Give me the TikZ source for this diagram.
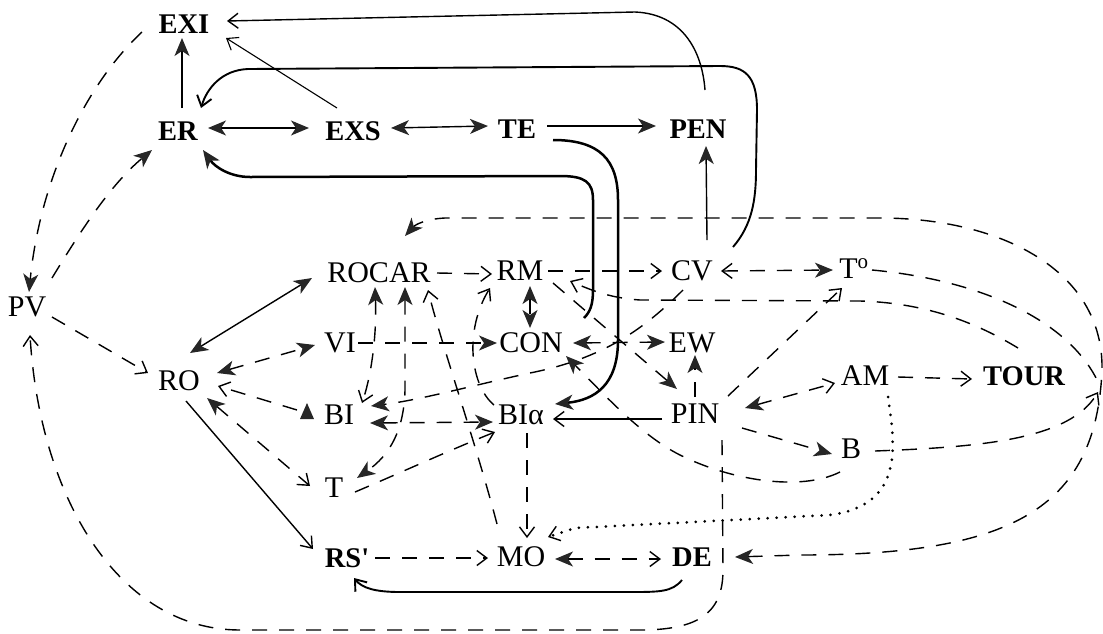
\documentclass[tikz,border=0pt]{standalone}
\usepackage{fontspec}
\setmainfont{Liberation Serif}
\usetikzlibrary{calc,arrows.meta}
\tikzset{
  Fl/.tip={Stealth[length=18pt,width=15pt,inset=5pt,color=black!85]},
  Op/.tip={Straight Barb[length=10pt,width=15pt]},
  lbl/.style={inner sep=0pt,outer sep=0pt,text height=20pt,text depth=0pt,font=\fontsize{30}{30}\selectfont},
  lblb/.style={lbl,font=\fontsize{28.5}{30}\selectfont\bfseries},
  sl/.style={line width=1.4pt},
  mid/.style={line width=1.9pt},
  thk/.style={line width=2.5pt},
  dsh/.style={line width=1.4pt,dash pattern=on 15pt off 12pt},
  dot/.style={line width=3pt,line cap=round,dash pattern=on 0pt off 9pt},
}
\begin{document}
\begin{tikzpicture}[x=1pt,y=-1pt]
\useasboundingbox (0,0) rectangle (1103,633);
% nodes
\node[lblb] (EXI) at (184,23) {EXI};
\node[lblb] (ER) at (178,130) {ER};
\node[lblb] (EXS) at (353,130) {EXS};
\node[lblb] (TE) at (517,128) {TE};
\node[lblb] (PEN) at (698,128) {PEN};
\node[lbl] (PV) at (27,306) {PV};
\node[lbl] (ROCAR) at (379,272) {ROCAR};
\node[lbl] (RM) at (520,270) {RM};
\node[lbl] (CV) at (692,270) {CV};
\node[lbl] (To) at (854,268) {T\textsuperscript{o}};
\node[lbl] (VI) at (340,342) {VI};
\node[lbl] (CON) at (531,342) {CON};
\node[lbl] (EW) at (692,342) {EW};
\node[lbl] (RO) at (179,380) {RO};
\node[lbl] (BI) at (339,414) {BI};
\node[lbl] (BIa) at (521,414) {BIα};
\node[lbl] (PIN) at (695,413) {PIN};
\node[lbl] (AM) at (865,375) {AM};
\node[lblb] (TOUR) at (1024,375) {TOUR};
\node[lbl] (B) at (851,448) {B};
\node[lbl] (T) at (334,487) {T};
\node[lblb] (RS) at (347,557) {RS\textquotesingle};
\node[lbl] (MO) at (521,556) {MO};
\node[lblb] (DE) at (692,556) {DE};
\coordinate (mergeA) at (1099,384);
\coordinate (mergeB) at (1098,392);
% solid connectors
\draw[sl,-{Fl}] ($(ER)+(4,-22)$) -- ($(EXI)+(-2,15)$);
\draw[line width=1.1pt,-{Op}] ($(EXS)+(-16,-22)$) -- ($(EXI)+(42,15)$);
\draw[sl,-{Op}] ($(PEN)+(7,-38)$) .. controls (702,50) and (682,14) .. (635,12) -- ($(EXI)+(43,-2)$);
\draw[mid,-{Op}] ($(CV)+(41,-23)$) .. controls (752,225) and (756,200) .. (756,170) -- (757,110) .. controls (757,76) and (745,66) .. (720,66) -- (248,69) .. controls (222,70) and (207,88) .. ($(ER)+(23,-22)$);
\draw[sl,{Fl}-{Fl}] ($(ER)+(30,-2)$) -- ($(EXS)+(-44,-2)$);
\draw[sl,{Fl}-{Fl}] ($(EXS)+(38,-2)$) -- ($(TE)+(-29,-2)$);
\draw[sl,-{Fl}] ($(TE)+(30,-2)$) -- ($(PEN)+(-42,-2)$);
\draw[sl,-{Fl}] ($(CV)+(15,-30)$) -- ($(PEN)+(8,18)$);
\draw[thk,-{Fl}] ($(CON)+(53,-24)$) .. controls (590,312) and (593,305) .. (593,290) -- (593,200) .. controls (593,182) and (585,176) .. (560,176) -- (250,177) .. controls (230,177) and (215,167) .. ($(ER)+(25,20)$);
\draw[thk,-{Fl}] ($(TE)+(36,12)$) .. controls (600,140) and (618,160) .. (618,200) -- (618,340) .. controls (618,385) and (595,400) .. ($(BIa)+(34,-10)$);
\draw[sl,-{Op}] ($(PIN)+(-33,6)$) -- ($(BIa)+(32,5)$);
\draw[sl,-{Op}] ($(RO)+(7,21)$) -- ($(RS)+(-34,-8)$);
\draw[sl,{Fl}-{Fl}] ($(RO)+(11,-27)$) -- ($(ROCAR)+(-67,6)$);
\draw[mid,-{Op}] ($(DE)+(-10,24)$) .. controls (672,592) and (660,592) .. (630,592) -- (400,592) .. controls (375,592) and (362,588) .. ($(RS)+(7,21)$);
% dashed connectors
\draw[dsh,-{Fl}] ($(EXI)+(-42,9)$) .. controls (85,85) and (40,180) .. ($(PV)+(2,-14)$);
\draw[dsh,-{Fl}] ($(PV)+(25,-28)$) .. controls (80,232) and (110,185) .. ($(ER)+(-26,20)$);
\draw[dsh,-{Op}] ($(PV)+(25,11)$) -- ($(RO)+(-31,-7)$);
\draw[dsh,-{Op}] ($(PIN)+(27,27)$) -- (723,570) .. controls (723,612) and (700,630) .. (640,630) -- (240,630) .. controls (120,630) and (40,500) .. ($(PV)+(3,29)$);
\draw[dsh,{Fl}-{Fl}] ($(DE)+(43,1)$) -- (800,555) .. controls (1010,555) and (1096,510) .. (1102,370) .. controls (1104,270) and (1000,218) .. (880,218) -- (445,218) .. controls (425,219) and (415,225) .. ($(ROCAR)+(26,-36)$);
\draw[dsh] ($(To)+(18,2)$) .. controls (980,280) and (1070,320) .. (mergeA);
\draw[dsh,-{Op}] ($(B)+(24,3)$) .. controls (980,447) and (1070,440) .. (mergeB);
\draw[dsh,-{Op}] ($(TOUR)+(-6,-27)$) .. controls (980,325) and (930,303) .. (860,301) -- (640,300) .. controls (612,298) and (595,292) .. ($(RM)+(50,11)$);
\draw[dsh,{Op}-{Fl}] ($(CV)+(29,1)$) -- ($(To)+(-21,2)$);
\draw[dsh,-{Op}] ($(RM)+(28,1)$) -- ($(CV)+(-30,1)$);
\draw[dsh,-{Op}] ($(ROCAR)+(58,1)$) -- ($(RM)+(-28,4)$);
\draw[dsh,{Fl}-{Fl}] ($(RM)+(10,16)$) -- ($(CON)+(-1,-14)$);
\draw[dsh,-{Fl}] ($(VI)+(18,1)$) -- ($(CON)+(-34,1)$);
\draw[dsh,{Fl}-{Fl}] ($(CON)+(42,1)$) -- ($(EW)+(-27,0)$);
\draw[dsh,-{Fl}] ($(PIN)+(0,-16)$) -- ($(EW)+(3,13)$);
\draw[dsh,-{Fl}] ($(RM)+(33,13)$) -- ($(PIN)+(-18,-24)$);
\draw[dsh,-{Fl}] ($(CV)+(-9,20)$) .. controls (645,328) and (605,358) .. (530,373) .. controls (470,386) and (420,400) .. ($(BI)+(32,-8)$);
\draw[dsh,-{Fl}] ($(B)+(-11,24)$) .. controls (800,492) and (730,480) .. (680,455) .. controls (640,435) and (600,390) .. ($(CON)+(35,14)$);
\draw[dsh,-{Op}] ($(PIN)+(33,-17)$) -- ($(To)+(-12,20)$);
\draw[dsh,{Fl}-{Op}] ($(PIN)+(50,-5)$) -- ($(AM)+(-30,8)$);
\draw[dsh,-{Fl}] ($(PIN)+(47,15)$) -- ($(B)+(-19,6)$);
\draw[dsh,-{Op}] ($(AM)+(33,2)$) -- ($(TOUR)+(-52,4)$);
\draw[dot,-{Op[line width=1.4pt]}] ($(AM)+(23,22)$) .. controls (895,445) and (905,505) .. (830,515) -- (575,528) -- ($(MO)+(27,-19)$);
\draw[dsh,-{Op}] ($(BIa)+(6,19)$) -- ($(MO)+(6,-18)$);
\draw[dsh,-{Op}] ($(MO)+(-24,-32)$) .. controls (475,440) and (440,340) .. ($(ROCAR)+(49,18)$);
\draw[dsh,-{Op}] ($(RS)+(28,1)$) -- ($(MO)+(-33,2)$);
\draw[dsh,{Fl}-{Op}] ($(MO)+(34,3)$) -- ($(DE)+(-31,3)$);
\draw[dsh,-{Op}] ($(T)+(21,5)$) .. controls (400,473) and (450,450) .. ($(BIa)+(-26,18)$);
\draw[dsh,{Fl}-{Fl}] ($(RO)+(38,-7)$) -- ($(VI)+(-25,3)$);
\draw[dsh,-{Op}] ($(BI)+(-42,-4)$) -- ($(RO)+(39,6)$);
\fill[black!85] ($(BI)+(-39,5)$) -- ($(BI)+(-25,5)$) -- ($(BI)+(-32,-11)$) -- cycle;
\draw[dsh,{Fl}-{Op}] ($(RO)+(28,18)$) -- ($(T)+(-24,-1)$);
\draw[dsh,{Fl}-{Op}] ($(ROCAR)+(-4,15)$) .. controls (377,340) and (370,380) .. ($(BI)+(23,-11)$);
\draw[dsh,{Fl}-{Fl}] ($(ROCAR)+(26,15)$) -- (405,390) .. controls (404,430) and (390,455) .. ($(T)+(23,-9)$);
\draw[dsh,{Fl}-{Fl}] ($(BI)+(31,9)$) -- ($(BIa)+(-28,8)$);
\draw[dsh,-{Op}] ($(BIa)+(-27,-9)$) .. controls (470,385) and (464,330) .. ($(RM)+(-30,18)$);
\end{tikzpicture}
\end{document}
